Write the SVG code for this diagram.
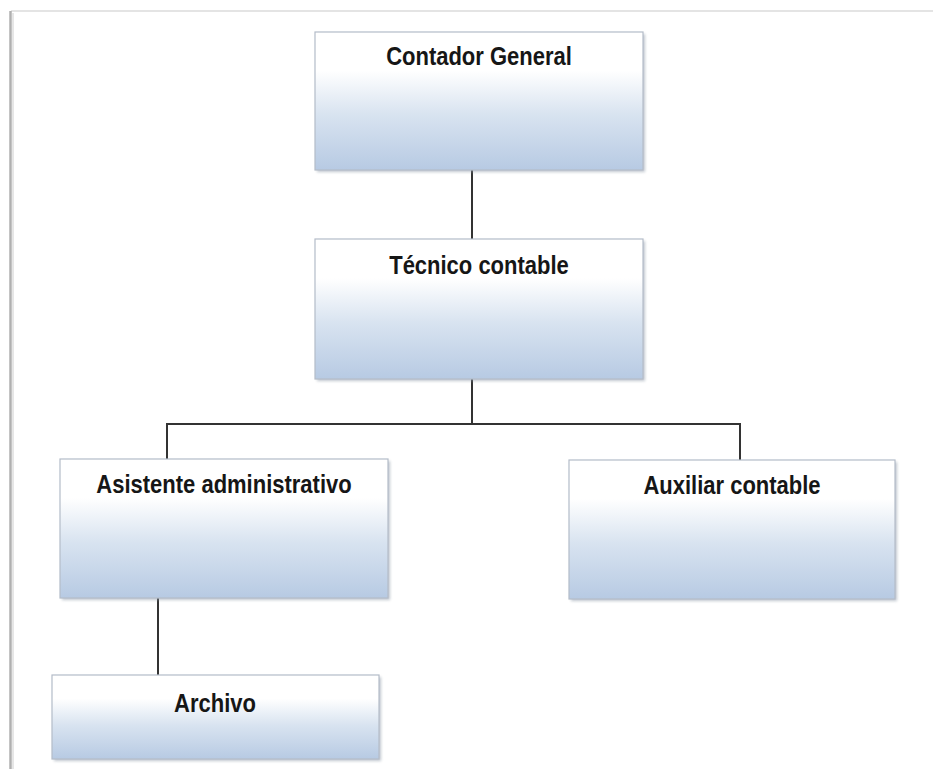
<svg xmlns="http://www.w3.org/2000/svg" width="933" height="769" viewBox="0 0 933 769">
<defs>
<linearGradient id="boxFill" x1="0" y1="0" x2="0" y2="1">
<stop offset="0" stop-color="#ffffff"/>
<stop offset="0.28" stop-color="#ffffff"/>
<stop offset="0.6" stop-color="#d8e3f0"/>
<stop offset="1" stop-color="#b7cae3"/>
</linearGradient>
<filter id="soft" x="-5%" y="-5%" width="110%" height="115%">
<feGaussianBlur stdDeviation="1.5"/>
</filter>
</defs>
<style>
.box{fill:url(#boxFill);stroke:#b4bcc8;stroke-width:1.2}
.shadow{fill:#8a96a6;opacity:0.55;filter:url(#soft)}
.lbl{font-family:"Liberation Sans",Arial,sans-serif;font-weight:bold;font-size:22px;fill:#161616;text-anchor:middle}
.conn{stroke:#333333;stroke-width:2;fill:none}
</style>
<rect x="0" y="0" width="933" height="769" fill="#ffffff"/>
<g id="page-border">
<line x1="11" y1="11" x2="933" y2="11" stroke="#e4e4e4" stroke-width="2"/>
<line x1="10.5" y1="11" x2="10.5" y2="769" stroke="#b0b0b0" stroke-width="2.5"/>
<line x1="13" y1="13" x2="13" y2="769" stroke="#e6e6e6" stroke-width="2"/>
</g>
<g id="connectors">
<line class="conn" x1="472" y1="170" x2="472" y2="239"/>
<polyline class="conn" points="167,459 167,424 740,424 740,460"/>
<line class="conn" x1="472" y1="379" x2="472" y2="424"/>
<line class="conn" x1="158" y1="598" x2="158" y2="675"/>
</g>
<g id="contador-general">
<rect class="shadow" x="317" y="34" width="328" height="138"/>
<rect class="box" x="315" y="32" width="328" height="138"/>
<text class="lbl" transform="translate(479,65) scale(1,1.18)">Contador General</text>
</g>
<g id="tecnico-contable">
<rect class="shadow" x="317" y="241" width="328" height="140"/>
<rect class="box" x="315" y="239" width="328" height="140"/>
<text class="lbl" transform="translate(479,274) scale(1,1.18)">Técnico contable</text>
</g>
<g id="asistente-administrativo">
<rect class="shadow" x="62" y="461" width="328" height="139"/>
<rect class="box" x="60" y="459" width="328" height="139"/>
<text class="lbl" transform="translate(224,493) scale(1,1.18)">Asistente administrativo</text>
</g>
<g id="auxiliar-contable">
<rect class="shadow" x="571" y="462" width="326" height="139"/>
<rect class="box" x="569" y="460" width="326" height="139"/>
<text class="lbl" transform="translate(732,494) scale(1,1.18)">Auxiliar contable</text>
</g>
<g id="archivo">
<rect class="shadow" x="54" y="677" width="327" height="84"/>
<rect class="box" x="52" y="675" width="327" height="84"/>
<text class="lbl" transform="translate(215,712) scale(1,1.18)">Archivo</text>
</g>
</svg>
